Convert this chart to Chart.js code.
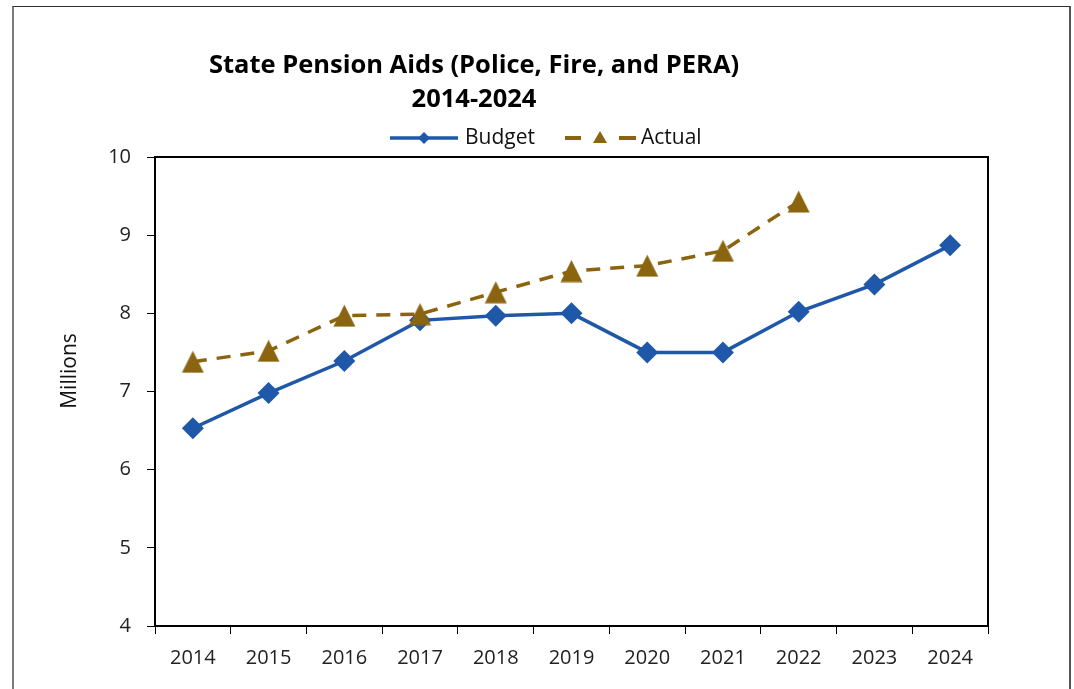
<!DOCTYPE html>
<html>
<head>
<meta charset="utf-8">
<script src="https://cdn.jsdelivr.net/npm/chart.js@4/dist/chart.umd.min.js"></script>
<style>
  html, body { margin: 0; padding: 0; background: #fff; overflow: hidden; }
  #wrap { position: absolute; left: 0; top: 0; width: 1074px; height: 689px; }
  #frame { position: absolute; left: 12px; top: 6px; width: 1055px; height: 720px;
           border-left: 2px solid #7a7a7a; border-top: 1px solid #333; border-right: 2px solid #555; }
</style>
</head>
<body>
<div id="frame"></div>
<div id="wrap"><canvas id="c" width="1074" height="689"></canvas></div>
<script>
const titleLines = ['State Pension Aids (Police, Fire, and PERA)', '2014-2024'];
const yAxisTitle = 'Millions';
const categories = ['2014','2015','2016','2017','2018','2019','2020','2021','2022','2023','2024'];
const budgetValues = [6.53, 6.98, 7.39, 7.91, 7.97, 8.00, 7.50, 7.50, 8.02, 8.37, 8.87];
const actualValues = [7.38, 7.52, 7.97, 7.99, 8.27, 8.54, 8.61, 8.80, 9.43, null, null];
const yTicks = [4, 5, 6, 7, 8, 9, 10];
const seriesNames = ['Budget', 'Actual'];
const blue = '#1F58A8';
const brown = '#8B6410';
const FONT = '"Open Sans", "Noto Sans", sans-serif';

// Excel-style triangle marker (box-centred, width = height)
function makeTriangle(size, color) {
  const cv = document.createElement('canvas');
  cv.width = size; cv.height = size;
  const c = cv.getContext('2d');
  c.fillStyle = color;
  c.beginPath();
  c.moveTo(size / 2, 0.5);
  c.lineTo(size - 0.5, size - 0.5);
  c.lineTo(0.5, size - 0.5);
  c.closePath();
  c.fill();
  return cv;
}
const triMarker = makeTriangle(23, brown);

const customPlugin = {
  id: 'custom',
  afterDraw(chart) {
    const ctx = chart.ctx;
    const a = chart.chartArea;
    ctx.save();
    ctx.strokeStyle = '#000';
    ctx.lineWidth = 2;
    ctx.strokeRect(a.left, a.top, a.right - a.left, a.bottom - a.top);
    // title
    ctx.fillStyle = '#000';
    ctx.font = 'bold 25.5px ' + FONT;
    ctx.textAlign = 'center';
    ctx.textBaseline = 'middle';
    ctx.fillText(titleLines[0], 474, 66);
    ctx.fillText(titleLines[1], 474, 100);
    // y axis title
    ctx.save();
    ctx.translate(70, 371);
    ctx.rotate(-Math.PI / 2);
    ctx.font = '21px ' + FONT;
    ctx.fillStyle = '#111';
    ctx.fillText(yAxisTitle, 0, 0);
    ctx.restore();
    // legend
    const ly = 138;
    ctx.lineWidth = 3.5;
    ctx.strokeStyle = blue;
    ctx.beginPath(); ctx.moveTo(390, ly); ctx.lineTo(458, ly); ctx.stroke();
    ctx.fillStyle = blue;
    ctx.beginPath();
    ctx.moveTo(424, ly - 6); ctx.lineTo(430, ly); ctx.lineTo(424, ly + 6); ctx.lineTo(418, ly);
    ctx.closePath(); ctx.fill();
    ctx.lineWidth = 4;
    ctx.strokeStyle = brown;
    ctx.beginPath(); ctx.moveTo(565, ly); ctx.lineTo(581, ly); ctx.stroke();
    ctx.beginPath(); ctx.moveTo(619, ly); ctx.lineTo(636, ly); ctx.stroke();
    ctx.fillStyle = brown;
    ctx.beginPath();
    ctx.moveTo(600, ly - 7); ctx.lineTo(607, ly + 5); ctx.lineTo(593, ly + 5);
    ctx.closePath(); ctx.fill();
    ctx.fillStyle = '#111';
    ctx.font = '21px ' + FONT;
    ctx.textAlign = 'left';
    ctx.fillText(seriesNames[0], 465, ly);
    ctx.fillText(seriesNames[1], 641, ly);
    ctx.restore();
  }
};

new Chart(document.getElementById('c'), {
  type: 'line',
  data: {
    labels: categories,
    datasets: [
      {
        label: seriesNames[0],
        data: budgetValues,
        borderColor: blue,
        backgroundColor: blue,
        borderWidth: 3.5,
        pointStyle: 'rectRot',
        pointRadius: 11,
        pointBorderWidth: 0,
        pointBackgroundColor: blue,
        tension: 0,
        order: 1
      },
      {
        label: seriesNames[1],
        data: actualValues,
        borderColor: brown,
        backgroundColor: brown,
        borderWidth: 3.5,
        borderDash: [14, 10],
        pointStyle: triMarker,
        pointRadius: 12,
        pointBorderWidth: 0,
        pointBackgroundColor: brown,
        tension: 0,
        spanGaps: false,
        order: 0
      }
    ]
  },
  options: {
    responsive: false,
    animation: false,
    events: [],
    layout: { padding: { left: 55, top: 157, right: 86, bottom: 0 } },
    plugins: {
      legend: { display: false },
      title: { display: false },
      tooltip: { enabled: false }
    },
    scales: {
      x: {
        type: 'category',
        offset: true,
        grid: { offset: true, drawOnChartArea: false, drawTicks: true, tickLength: 8, color: '#000', lineWidth: 1 },
        border: { display: true, color: '#000', width: 2 },
        ticks: { color: '#222', font: { family: FONT, size: 20 }, padding: 12, maxRotation: 0, autoSkip: false },
        afterFit(scale) { scale.height = 63; }
      },
      y: {
        min: 4, max: 10,
        afterBuildTicks(scale) { scale.ticks = yTicks.map(v => ({ value: v })); },
        grid: { drawOnChartArea: false, drawTicks: true, tickLength: 8, color: '#000', lineWidth: 1 },
        border: { display: true, color: '#000', width: 2 },
        ticks: { color: '#222', font: { family: FONT, size: 20 }, padding: 16 },
        title: { display: false },
        afterFit(scale) { scale.width = 100; }
      }
    }
  },
  plugins: [customPlugin]
});
</script>
</body>
</html>
